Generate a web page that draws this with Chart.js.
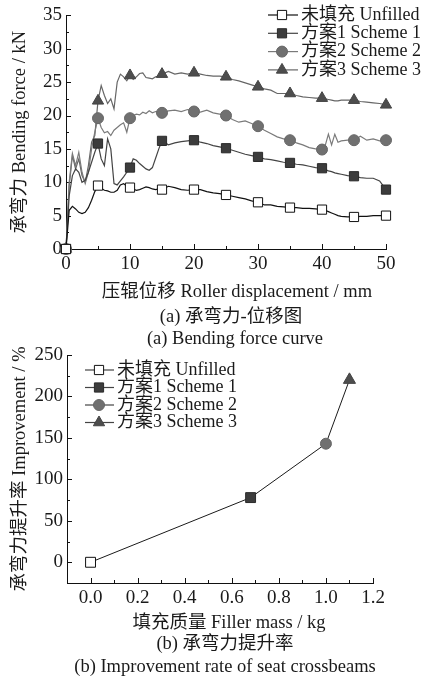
<!DOCTYPE html>
<html>
<head>
<meta charset="utf-8">
<script src="https://cdn.jsdelivr.net/npm/chart.js@4.4.1/dist/chart.umd.min.js"></script>
<style>
  body { margin: 0; background: #fff; width: 430px; height: 677px; position: relative; overflow: hidden; }
  canvas { position: absolute; left: 0; }
  .cap { position: absolute; transform: translateX(-50%); white-space: nowrap; line-height: 1;
         font: 18.5px 'Liberation Serif', 'Noto Sans CJK SC', serif; color: #1a1a1a; }
</style>
</head>
<body>
<canvas id="forceChart" width="430" height="300" style="top:0"></canvas>
<canvas id="rateChart" width="430" height="297" style="top:335px"></canvas>
<div class="cap" style="left:237px;top:276px">压辊位移 Roller displacement / mm</div>
<div class="cap" style="left:231px;top:301px">(a) 承弯力-位移图</div>
<div class="cap" style="left:235px;top:328px">(a) Bending force curve</div>
<div class="cap" style="left:229px;top:607px">填充质量 Filler mass / kg</div>
<div class="cap" style="left:225px;top:628px">(b) 承弯力提升率</div>
<div class="cap" style="left:225px;top:656px">(b) Improvement rate of seat crossbeams</div>
<script>
const FONT = "'Liberation Serif', 'Noto Sans CJK SC', serif";
const TEXT = '#1a1a1a';

// series names (legend)
const seriesNames = ['未填充 Unfilled', '方案1 Scheme 1', '方案2 Scheme 2', '方案3 Scheme 3'];

// (a) roller displacement, mm
const disp = [0, 0.5, 1, 1.5, 2, 2.5, 3, 3.5, 4, 4.5, 5, 5.5, 6, 6.5, 7, 7.5, 8, 8.5, 9, 9.5, 10,
  10.5, 11, 11.5, 12, 12.5, 13, 13.5, 14, 14.5, 15,
  16, 17, 18, 19, 20, 21, 22, 23, 24, 25, 26, 27, 28, 29, 30, 31, 32, 33, 34, 35, 36, 37, 38, 39, 40,
  40.5, 41, 41.5, 42, 42.5, 43,
  44, 45, 46, 47, 48, 49, 50];

// (a) bending force, kN
const forceUnfilled = [0, 5.8, 6.4, 6.0, 5.5, 5.3, 5.5, 6.2, 7.3, 8.6, 9.5,
  9.1, 8.8, 8.7, 8.5, 8.5, 8.8, 9.6, 9.8, 9.4, 9.2,
  9.0, 8.8, 8.9, 9.1, 9.3, 9.2, 9.0, 8.9, 9.0, 8.9,
  9.4, 9.2, 8.9, 8.8, 8.9, 8.9, 8.6, 8.4, 8.3, 8.1, 7.9, 7.7, 7.5, 7.2, 7.0, 6.6, 6.6, 6.4, 6.3, 6.2, 6.2, 6.1, 6.1, 6.0, 5.9,
  5.8, 5.6, 5.4, 5.2, 5.0, 4.9,
  4.8, 4.8, 4.9, 4.9, 5.0, 5.0, 5.0];
const forceScheme1 = [0, 8.0, 11.0, 12.0, 11.5, 10.0, 10.3, 11.5, 13.0, 14.5, 15.8,
  13.5, 12.5, 16.5, 15.0, 9.8, 9.6, 10.2, 10.8, 11.5, 12.2,
  13.5, 13.3, 12.8, 12.4, 12.0, 11.8, 12.2, 13.6, 15.0, 16.2,
  15.6, 15.9, 16.1, 16.2, 16.3, 16.0, 15.8, 15.5, 15.3, 15.1, 14.8, 14.5, 14.2, 14.0, 13.8, 13.5, 13.4, 13.2, 13.0, 12.9, 12.7, 12.6, 12.4, 12.2, 12.1,
  11.9, 11.7, 11.6, 11.4, 11.3, 11.2,
  11.0, 10.9, 10.7, 10.6, 10.6, 10.2, 8.9];
const forceScheme2 = [0, 10.0, 14.3, 12.5, 14.5, 11.5, 9.8, 11.5, 15.0, 17.5, 19.6,
  18.2, 17.4, 17.6, 17.0, 17.8, 18.2, 18.6, 18.9, 17.5, 19.6,
  20.0, 20.2, 20.1, 20.5, 20.3, 20.7, 20.4, 20.6, 20.5, 20.4,
  20.7, 20.8, 20.6, 20.9, 20.6, 20.5, 20.8, 20.4, 20.2, 20.0, 19.4, 19.0, 19.2, 18.8, 18.4, 17.8, 17.3, 16.8, 16.5, 16.3, 15.9, 15.6, 15.2, 15.0, 14.9,
  15.5, 17.2, 15.6, 17.2, 16.0, 16.2,
  16.3, 16.3, 16.9, 16.3, 16.5, 16.2, 16.3];
const forceScheme3 = [0, 9.5, 14.0, 12.0, 13.5, 11.0, 10.0, 12.5, 16.0, 17.0, 22.2,
  24.5, 23.0, 21.8, 22.5, 21.0, 25.0, 26.2, 25.8, 25.2, 26.0,
  25.4, 25.8, 26.3, 26.4, 25.7, 25.6, 25.5, 25.8, 25.9, 26.2,
  26.6, 26.2, 26.4, 26.2, 26.4, 26.2, 26.0, 25.9, 25.9, 25.8, 25.4, 25.2, 24.9, 24.6, 24.3, 24.0, 23.8, 23.3, 23.3, 23.3, 23.0, 22.8, 22.7, 22.6, 22.6,
  22.5, 22.4, 22.3, 22.2, 22.2, 22.3,
  22.3, 22.3, 22.1, 22.0, 21.9, 21.8, 21.6];

const dispTicks = [0, 10, 20, 30, 40, 50];
const dispMinor = [5, 15, 25, 35, 45];
const forceTicks = [0, 5, 10, 15, 20, 25, 30, 35];
const forceMinor = [2.5, 7.5, 12.5, 17.5, 22.5, 27.5, 32.5];

// (b) filler mass, kg / improvement, %
const fillerMass = [0, 0.68, 1.0, 1.1];
const improvement = [0, 78, 143, 220];
const massTicks = [0, 0.2, 0.4, 0.6, 0.8, 1.0, 1.2];
const massMinor = [0.1, 0.3, 0.5, 0.7, 0.9, 1.1];
const rateTicks = [0, 50, 100, 150, 200, 250];
const rateMinor = [25, 75, 125, 175, 225];

// marker look for each series
const looks = [
  { pointStyle: 'rect', fill: '#ffffff', stroke: '#111111', line: '#111111', radius: 6.5 },
  { pointStyle: 'rect', fill: '#3c3c3c', stroke: '#2a2a2a', line: '#444444', radius: 6.5 },
  { pointStyle: 'circle', fill: '#707070', stroke: '#666666', line: '#7a7a7a', radius: 5.5 },
  { pointStyle: 'triangle', fill: '#4d4d4d', stroke: '#444444', line: '#666666', radius: 6.5 }
];

// ticks pointing into the plot
const innerTicks = {
  id: 'innerTicks',
  beforeDatasetsDraw(chart, args, opts) {
    const ctx = chart.ctx;
    const area = chart.chartArea;
    ctx.save();
    ctx.strokeStyle = '#111';
    ctx.lineWidth = 1;
    ['x', 'y'].forEach(id => {
      const scale = chart.scales[id];
      const draw = (vals, len) => vals.forEach(v => {
        const p = Math.round(scale.getPixelForValue(v)) + 0.5;
        ctx.beginPath();
        if (id === 'x') {
          ctx.moveTo(p, area.bottom);
          ctx.lineTo(p, area.bottom - len);
        } else {
          ctx.moveTo(area.left, p);
          ctx.lineTo(area.left + len, p);
        }
        ctx.stroke();
      });
      draw(opts[id].major, 5);
      draw(opts[id].minor, 3);
    });
    ctx.restore();
  }
};

// legend with a line through each marker
const lineLegend = {
  id: 'lineLegend',
  afterDraw(chart, args, opts) {
    const ctx = chart.ctx;
    ctx.save();
    ctx.font = '18px ' + FONT;
    ctx.textBaseline = 'middle';
    looks.forEach((lk, i) => {
      const y = opts.top + i * opts.gap;
      ctx.strokeStyle = opts.lineColor || lk.line;
      ctx.lineWidth = 1.2;
      ctx.beginPath();
      ctx.moveTo(opts.x0, y);
      ctx.lineTo(opts.x1, y);
      ctx.stroke();
      ctx.fillStyle = lk.fill;
      ctx.strokeStyle = lk.stroke;
      ctx.lineWidth = 1;
      Chart.helpers.drawPoint(ctx, { pointStyle: lk.pointStyle, radius: lk.radius, rotation: 0, borderWidth: 1 }, opts.mx, y);
      ctx.fillStyle = TEXT;
      ctx.fillText(seriesNames[i], opts.tx, y);
    });
    ctx.restore();
  }
};

function axis(min, max, tickVals, size, title, labelFmt) {
  return {
    type: 'linear',
    min: min,
    max: max,
    afterBuildTicks: s => { s.ticks = tickVals.map(v => ({ value: v })); },
    afterFit: s => { if (s.isHorizontal()) s.height = size; else s.width = size; },
    grid: { display: false, drawTicks: false },
    border: { display: true, color: '#111', width: 1 },
    ticks: {
      font: { family: FONT, size: 19 },
      color: TEXT,
      padding: 4,
      maxRotation: 0,
      autoSkip: false,
      callback: labelFmt || (v => v)
    },
    title: {
      display: !!title,
      text: title || '',
      color: TEXT,
      font: { family: FONT, size: 18.5, lineHeight: 1 },
      padding: { top: 11, bottom: 0 }
    }
  };
}

const forceSeries = [forceUnfilled, forceScheme1, forceScheme2, forceScheme3];

new Chart(document.getElementById('forceChart'), {
  type: 'line',
  data: {
    datasets: forceSeries.map((vals, i) => ({
      label: seriesNames[i],
      data: disp.map((x, j) => ({ x: x, y: vals[j] })),
      borderColor: looks[i].line,
      borderWidth: 1.2,
      tension: 0,
      clip: false,
      pointStyle: looks[i].pointStyle,
      pointRadius: c => (disp[c.dataIndex] % 5 === 0 ? looks[i].radius : 0),
      pointBackgroundColor: looks[i].fill,
      pointBorderColor: looks[i].stroke,
      pointBorderWidth: 1
    }))
  },
  options: {
    responsive: false,
    animation: false,
    events: [],
    layout: { padding: { top: 13, right: 44, left: 0, bottom: 0 } },
    plugins: {
      legend: { display: false },
      tooltip: { enabled: false },
      innerTicks: { x: { major: dispTicks, minor: dispMinor }, y: { major: forceTicks, minor: forceMinor } },
      lineLegend: { top: 15, gap: 18.3, x0: 268, x1: 298, mx: 282, tx: 301 }
    },
    scales: {
      x: axis(0, 50, dispTicks, 51, null),
      y: axis(0, 35, forceTicks, 66, '承弯力 Bending force / kN')
    }
  },
  plugins: [innerTicks, lineLegend]
});

new Chart(document.getElementById('rateChart'), {
  type: 'line',
  data: {
    datasets: [{
      label: 'Improvement',
      data: fillerMass.map((x, j) => ({ x: x, y: improvement[j] })),
      borderColor: '#1a1a1a',
      borderWidth: 1,
      tension: 0,
      clip: false,
      pointStyle: looks.map(l => l.pointStyle),
      pointRadius: [7, 7, 5.5, 7],
      pointBackgroundColor: looks.map(l => l.fill),
      pointBorderColor: looks.map(l => l.stroke),
      pointBorderWidth: 1
    }]
  },
  options: {
    responsive: false,
    animation: false,
    events: [],
    layout: { padding: { top: 20, right: 57, left: 0, bottom: 0 } },
    plugins: {
      legend: { display: false },
      tooltip: { enabled: false },
      innerTicks: { x: { major: massTicks, minor: massMinor }, y: { major: rateTicks, minor: rateMinor } },
      lineLegend: { top: 35, gap: 17.5, x0: 85, x1: 114, mx: 99, tx: 117, lineColor: '#444' }
    },
    scales: {
      x: axis(-0.1, 1.2, massTicks, 49, null, v => Number(v).toFixed(1)),
      y: axis(-25, 250, rateTicks, 67, '承弯力提升率 Improvement / %')
    }
  },
  plugins: [innerTicks, lineLegend]
});
</script>
</body>
</html>
